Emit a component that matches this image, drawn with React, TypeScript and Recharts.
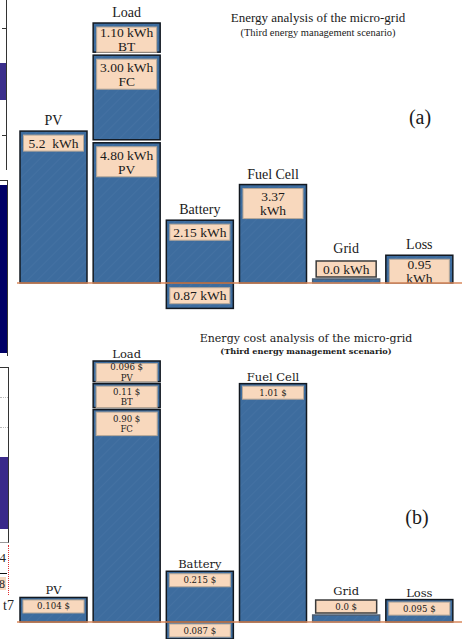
import { Bar, BarChart, ReferenceLine, XAxis, YAxis } from "recharts";

const categories = ["PV", "Load", "Battery", "Fuel Cell", "Grid", "Loss"];

// (a) energy, kWh — Load is split into what feeds it (bottom -> top)
const energyBase = [5.2, 4.8, 2.15, 3.37, 0, 0.95];
const energyMid = [0, 3.0, 0, 0, 0, 0];
const energyTop = [0, 1.1, 0, 0, 0, 0];
const energyNeg = [0, 0, -0.87, 0, 0, 0];
const energyBaseText = [["5.2  kWh"], ["4.80 kWh", "PV"], ["2.15 kWh"], ["3.37", "kWh"], ["0.0 kWh"], ["0.95", "kWh"]];
const energyMidText = [null, ["3.00 kWh", "FC"], null, null, null, null];
const energyTopText = [null, ["1.10 kWh", "BT"], null, null, null, null];
const energyNegText = [null, null, ["0.87 kWh"], null, null, null];

// (b) cost, $
const costBase = [0.104, 0.9, 0.215, 1.01, 0, 0.095];
const costMid = [0, 0.11, 0, 0, 0, 0];
const costTop = [0, 0.096, 0, 0, 0, 0];
const costNeg = [0, 0, -0.087, 0, 0, 0];
const costBaseText = [["0.104 $"], ["0.90 $", "FC"], ["0.215 $"], ["1.01 $"], ["0.0 $"], ["0.095 $"]];
const costMidText = [null, ["0.11 $", "BT"], null, null, null, null];
const costTopText = [null, ["0.096 $", "PV"], null, null, null, null];
const costNegText = [null, null, ["0.087 $"], null, null, null];

type Txt = (string[] | null)[];
type Style = {
  id: string;
  font: string;
  size: number;
  lineH: number;
  pad: number;
  inset: number;
  insetTop: number;
  nameSize: number;
  nameGap: number;
  gap: number;
};

const TIMES = '"Liberation Serif", "Times New Roman", serif';
const DEJA = '"DejaVu Serif", serif';

const styleA: Style = { id: "hatchA", font: TIMES, size: 13.5, lineH: 14, pad: 2, inset: 3.5, insetTop: 4, nameSize: 14, nameGap: 6, gap: 3 };
const styleB: Style = { id: "hatchB", font: DEJA, size: 8.6, lineH: 10.5, pad: 2.5, inset: 3, insetTop: 2.5, nameSize: 11.5, nameGap: 3, gap: 2 };

function makeShape(st: Style, texts: Txt, values: number[], upper: boolean, neg: boolean, named: boolean[]) {
  return (p: any) => {
    let i = categories.indexOf(p.payload?.name);
    if (i < 0) i = p.index;
    const t = texts[i];
    if (!t) return <g />;
    const x = p.x;
    const w = p.width;
    const y0 = Math.min(p.y, p.y + p.height);
    let h = Math.abs(p.height);
    if (upper) h -= st.gap;
    const zero = values[i] === 0;
    const natural = t.length * st.lineH + st.pad;
    const bx = x + st.inset;
    const bw = w - 2 * st.inset;
    let by: number, bh: number;
    if (zero) {
      bh = natural;
      by = y0 - 2 - bh;
    } else if (neg) {
      bh = Math.min(natural, h - 2);
      by = y0 + (h - bh) / 2;
    } else {
      bh = Math.min(natural, h - st.insetTop);
      by = y0 + st.insetTop;
    }
    const cy = by + bh / 2;
    const nameY = (zero ? by - 2 : y0) - st.nameGap;
    return (
      <g>
        <rect x={x} y={y0} width={w} height={h} fill={`url(#${st.id})`} stroke={zero ? "#4d5d70" : "#121820"} strokeWidth={1.5} />
        <rect x={bx} y={by} width={bw} height={bh} fill="#f8d8bd" stroke={zero ? "#3a3a3a" : "#b8a898"} strokeWidth={zero ? 1.5 : 1} />
        <text textAnchor="middle" fontFamily={st.font} fontSize={st.size} fill="#1a1a1a" style={{ whiteSpace: "pre" }}>
          {t.map((s, k) => (
            <tspan key={k} x={x + w / 2} y={cy + (k - (t.length - 1) / 2) * st.lineH + st.size * 0.35}>
              {s}
            </tspan>
          ))}
        </text>
        {named[i] && (
          <text x={x + w / 2} y={nameY} textAnchor="middle" fontFamily={st.font} fontSize={st.nameSize} fill="#1a1a1a">
            {categories[i]}
          </text>
        )}
      </g>
    );
  };
}

function Panel({
  st, height, domain, minBar,
  base, mid, top, neg, baseText, midText, topText, negText,
}: {
  st: Style; height: number; domain: [number, number]; minBar: number;
  base: number[]; mid: number[]; top: number[]; neg: number[];
  baseText: Txt; midText: Txt; topText: Txt; negText: Txt;
}) {
  const data = categories.map((name, i) => ({ name, base: base[i], mid: mid[i], top: top[i], neg: neg[i] }));
  const onBase = categories.map((_, i) => !mid[i] && !top[i]);
  const onMid = categories.map((_, i) => !!mid[i] && !top[i]);
  const onTop = categories.map((_, i) => !!top[i]);
  const none = categories.map(() => false);
  return (
    <BarChart
      width={462}
      height={height}
      data={data}
      margin={{ top: 0, right: 6, bottom: 0, left: 17 }}
      stackOffset="sign"
      barCategoryGap={3}
    >
      <defs>
        <pattern id={st.id} patternUnits="userSpaceOnUse" width="7" height="7" patternTransform="rotate(45)">
          <rect width="7" height="7" fill="#3d6c9e" />
          <line x1="0" y1="0" x2="0" y2="7" stroke="#6a8fb6" strokeWidth="1" strokeOpacity="0.3" />
        </pattern>
      </defs>
      <XAxis dataKey="name" hide />
      <YAxis hide type="number" domain={domain} allowDataOverflow />
      <Bar dataKey="base" stackId="s" minPointSize={minBar} isAnimationActive={false} shape={makeShape(st, baseText, base, false, false, onBase)} />
      <Bar dataKey="mid" stackId="s" isAnimationActive={false} shape={makeShape(st, midText, mid, true, false, onMid)} />
      <Bar dataKey="top" stackId="s" isAnimationActive={false} shape={makeShape(st, topText, top, true, false, onTop)} />
      <Bar dataKey="neg" stackId="s" isAnimationActive={false} shape={makeShape(st, negText, neg, false, true, none)} />
      <ReferenceLine
        y={0}
        stroke="#d8895c"
        strokeWidth={1.5}
        shape={(p: any) => <line x1={p.x1} y1={p.y1} x2={p.x2 + 6} y2={p.y2} stroke="#d8895c" strokeWidth={1.5} />}
      />
    </BarChart>
  );
}

function Label({ x, y, size, font, bold, children, ls }: any) {
  return (
    <div
      style={{
        position: "absolute", left: x, top: y, transform: "translate(-50%, -50%)",
        fontFamily: font, fontSize: size, fontWeight: bold ? 700 : 400, whiteSpace: "nowrap",
        color: "#1a1a1a", lineHeight: 1, letterSpacing: ls ?? 0,
      }}
    >
      {children}
    </div>
  );
}

function Box(props: any) {
  return <div style={{ position: "absolute", ...props }} />;
}

export default function App() {
  return (
    <div style={{ position: "fixed", left: 0, top: 0, width: 462, height: 639, overflow: "hidden", background: "#fff" }}>
      {/* cropped neighbour figure at the left edge */}
      <Box left={6} top={0} width={1} height={170} background="#333" />
      <Box left={2} top={28} width={4} height={1} background="#333" />
      <Box left={2} top={135} width={4} height={1} background="#333" />
      <Box left={0} top={63} width={6} height={37} background="#3b2f8c" />
      <Box left={0} top={180} width={8} height={176} borderTop="1px solid #333" borderRight="1px solid #333" boxSizing="border-box" />
      <Box left={0} top={185} width={7} height={168} background="#000066" />
      <Box left={0} top={367} width={9} height={176} borderTop="1px solid #333" borderRight="1px solid #333" borderBottom="1px solid #999" boxSizing="border-box" />
      <Box left={0} top={397} width={8} height={0} borderTop="1px dotted #bbb" />
      <Box left={0} top={427} width={8} height={0} borderTop="1px dotted #bbb" />
      <Box left={0} top={457} width={8} height={72} background="#3a2a8a" />
      <Box left={8} top={545} width={0} height={50} borderLeft="1.5px dotted #e03030" />
      <Box left={0} top={573} width={7} height={1} background="#111" />
      <Box left={0} top={577} width={6} height={13} background="#f8d8bd" />
      <div style={{ position: "absolute", left: -7, top: 550, fontFamily: TIMES, fontSize: 13, color: "#222" }}>24</div>
      <div style={{ position: "absolute", left: -1, top: 577, fontFamily: TIMES, fontSize: 12, color: "#222" }}>8</div>
      <div style={{ position: "absolute", left: 3, top: 598, fontFamily: TIMES, fontSize: 14, color: "#222" }}>t7</div>

      <div style={{ position: "absolute", left: 0, top: 0 }}>
        <Panel
          st={styleA} height={320} domain={[-1.267, 9.688]} minBar={4}
          base={energyBase} mid={energyMid} top={energyTop} neg={energyNeg}
          baseText={energyBaseText} midText={energyMidText} topText={energyTopText} negText={energyNegText}
        />
      </div>
      <div style={{ position: "absolute", left: 0, top: 320 }}>
        <Panel
          st={styleB} height={319} domain={[-0.072, 1.2797]} minBar={7}
          base={costBase} mid={costMid} top={costTop} neg={costNeg}
          baseText={costBaseText} midText={costMidText} topText={costTopText} negText={costNegText}
        />
      </div>

      <Label x={318} y={17} size={13} font={TIMES}>Energy analysis of the micro-grid</Label>
      <Label x={318} y={33} size={10.5} font={TIMES}>(Third energy management scenario)</Label>
      <Label x={420} y={117} size={20} font={TIMES}>(a)</Label>

      <Label x={306} y={338} size={11} font={DEJA}>Energy cost analysis of the micro-grid</Label>
      <Label x={306} y={351} size={8.2} font={DEJA} bold>(Third energy management scenario)</Label>
      <Label x={417} y={517} size={20} font={TIMES}>(b)</Label>
    </div>
  );
}
